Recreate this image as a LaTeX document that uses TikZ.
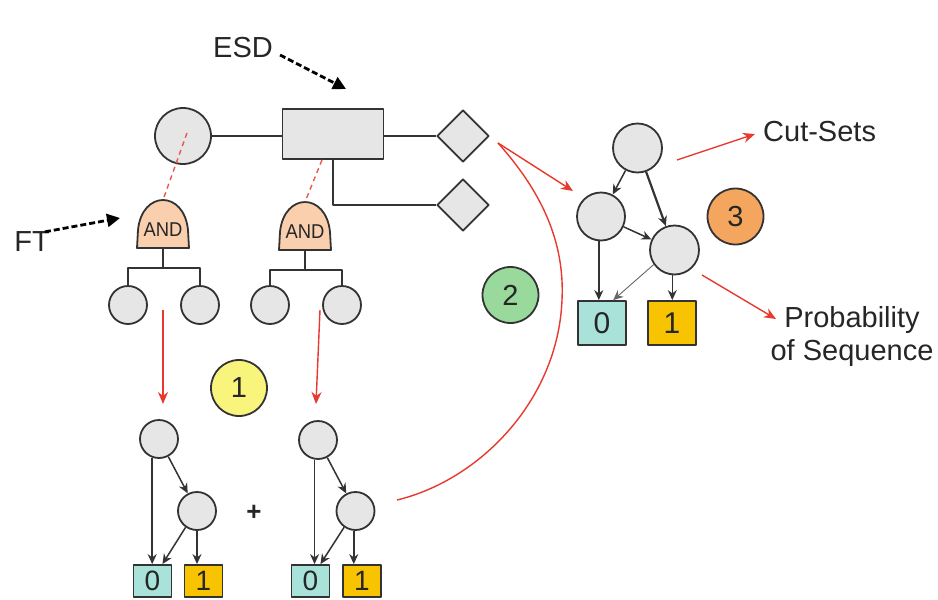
\documentclass[tikz,border=0pt]{standalone}
\usepackage{fontspec}
\setmainfont{Liberation Sans}
\usetikzlibrary{shapes.geometric,arrows.meta,calc}

\definecolor{nodegray}{HTML}{E6E6E6}
\definecolor{edgegray}{HTML}{333333}
\definecolor{textgray}{HTML}{262626}
\definecolor{gatepeach}{HTML}{F9CFAE}
\definecolor{zeroteal}{HTML}{A8E2D9}
\definecolor{onegold}{HTML}{F8C300}
\definecolor{stepyellow}{HTML}{F9F57C}
\definecolor{stepgreen}{HTML}{99D99B}
\definecolor{steporange}{HTML}{F4A55E}
\definecolor{flowred}{HTML}{E8392E}

\tikzset{
  andgate/.pic={
    \draw[fill=gatepeach,draw=edgegray,line width=1.8pt]
      (-26,0) -- (-25,-18) .. controls (-21,-58) and (21,-58) .. (25,-18) -- (26,0) -- cycle;
    \node[font=\fontsize{20}{20}\selectfont,text=textgray,inner sep=0pt,xscale=0.92] (-label) at (0,-18) {AND};
    \coordinate (-top) at (0,-48);
    \coordinate (-base) at (0,0);
  }
}

\begin{document}
\begin{tikzpicture}[x=1pt,y=-1pt,line join=round,
  evt/.style={circle,draw=edgegray,fill=nodegray,line width=1.8pt,inner sep=0pt,minimum size=#1},
  evt/.default=38,
  wire/.style={draw=edgegray,line width=1.8pt},
  bddarc/.style={draw=edgegray,line width=1.5pt,-{Stealth[length=10pt,width=9pt]}},
  flow/.style={draw=flowred,line width=1.4pt},
  flowarrow/.style={flow,-{Stealth[length=12pt,width=10pt]}},
  pointer/.style={draw=black,line width=2.8pt,dash pattern=on 6pt off 3pt,-{Triangle[length=13pt,width=13pt]}},
  tag/.style={font=\fontsize{29}{33}\selectfont,text=textgray,inner sep=0pt},
  badge/.style={circle,draw=edgegray,line width=1.8pt,fill=#1,minimum size=56pt,inner sep=0pt,
    font=\fontsize{29}{29}\selectfont,text=textgray},
  terminal/.style={draw=edgegray,line width=1.8pt,fill=#1,inner sep=0pt,text=textgray},
  smallterm/.style={terminal=#1,minimum width=38pt,minimum height=32pt,font=\fontsize{28}{28}\selectfont},
  bigterm/.style={terminal=#1,minimum width=48pt,minimum height=44pt,font=\fontsize{30}{30}\selectfont},
]
\useasboundingbox (0,0) rectangle (938,600);

% ---------- event sequence diagram ----------
\node[evt=56] (c0) at (183,136) {};
\node[rectangle,draw=edgegray,fill=nodegray,line width=1.8pt,minimum width=101pt,minimum height=50pt,inner sep=0pt] (esd) at (333,134) {};
\node[diamond,aspect=1,draw=edgegray,fill=nodegray,line width=1.8pt,minimum size=52pt,inner sep=0pt] (d1) at (463,136) {};
\node[diamond,aspect=1,draw=edgegray,fill=nodegray,line width=1.8pt,minimum size=52pt,inner sep=0pt] (d2) at (463,205) {};

\draw[wire] (c0.east) -- (c0.east -| esd.west);
\draw[wire] (esd.east |- d1.west) -- (d1.west);
\draw[wire,line width=2.4pt] (esd.south) |- (d2.west);

\node[tag] (esdlabel) at (243,48) {ESD};
\coordinate (esdtip) at (346,89);
\draw[pointer] ($(esdlabel.east)+(7,7)$) -- (esdtip);

\node[tag] (ftlabel) at (32,242) {FT};
\coordinate (fttip) at (120,218);
\draw[pointer] ($(ftlabel.north east)+(-5,0)$) -- (fttip);

% ---------- fault trees ----------
\pic (g1) at (163,248) {andgate};
\pic (g2) at (305,250) {andgate};

\node[evt] (l1) at (128,305) {};
\node[evt] (l2) at (200,305) {};
\node[evt] (l3) at (270,305) {};
\node[evt] (l4) at (342,305) {};

\draw[wire] (g1-base) -- ++(0,20);
\draw[wire] (l1.north) |- ($(g1-base)+(0,20)$) -| (l2.north);
\draw[wire] (g2-base) -- ++(0,20);
\draw[wire] (l3.north) |- ($(g2-base)+(0,20)$) -| (l4.north);

\draw[flow,draw=flowred!85,dash pattern=on 5pt off 4pt] ($(c0.center)+(4,-3)$) -- (g1-top);
\draw[flow,draw=flowred!85,dash pattern=on 5pt off 4pt] ($(esd.south)+(-11,0)$) -- (g2-top);

% ---------- step 1: BDDs of the fault trees ----------
\coordinate (f1s) at (163,310);
\coordinate (f1e) at (163,404);
\coordinate (f2s) at (320,310);
\coordinate (f2e) at (316,404);
\draw[flowarrow] (f1s) -- (f1e);
\draw[flowarrow] (f2s) -- (f2e);

\node[badge=stepyellow] (one) at (239,388) {1};

\node[evt] (t1) at (159,439) {};
\node[evt] (s1) at (197,511) {};
\node[smallterm=zeroteal] (b0) at (152.5,581) {0};
\node[smallterm=onegold] (b1) at (203.5,581) {1};
\draw[bddarc] (t1.-110) -- (t1.-110 |- b0.north);
\draw[bddarc] (t1) -- (s1);
\draw[bddarc] (s1.235) -- ($(b0.north)!0.5!(b0.north east)$);
\draw[bddarc] (s1.south) -- (s1.south |- b1.north);

\node[font=\fontsize{26}{26}\selectfont\bfseries,text=textgray,inner sep=0pt] (plus) at (254,513) {+};

\node[evt] (t2) at (318,440) {};
\node[evt] (s2) at (355.5,511) {};
\node[smallterm=zeroteal] (b2) at (310.5,581) {0};
\node[smallterm=onegold] (b3) at (362,581) {1};
\draw[bddarc] (t2.-100) -- (t2.-100 |- b2.north);
\draw[bddarc] (t2) -- (s2);
\draw[bddarc] (s2.235) -- ($(b2.north)!0.5!(b2.north east)$);
\draw[bddarc] (s2.-95) -- (s2.-95 |- b3.north);

% ---------- step 2: combination along the sequence ----------
\coordinate (joinpt) at (498,143);
\coordinate (curveend) at (397,500);
\coordinate (mergetip) at (573,191);
\draw[flow] (joinpt) .. controls (540,190) and (565,240) .. (562,300)
  .. controls (558,400) and (480,480) .. (curveend);
\draw[flowarrow] (joinpt) -- (mergetip);

\node[badge=stepgreen] (two) at (510.5,295) {2};

% ---------- step 3: sequence BDD ----------
\node[evt=49] (r0) at (637.5,148) {};
\node[evt=48] (r1) at (601,216.5) {};
\node[evt=49] (r2) at (674.5,250) {};
\node[bigterm=zeroteal] (B0) at (602,323) {0};
\node[bigterm=onegold] (B1) at (672,323) {1};

\draw[bddarc] (r0) -- (r1);
\draw[bddarc,line width=2.2pt] (r0) -- (r2);
\draw[bddarc] (r1) -- (r2);
\draw[bddarc] (r1.-95) -- (r1.-95 |- B0.north);
\draw[bddarc,draw=edgegray!75,line width=0.9pt] (r2.215) -- ($(B0.north)!0.45!(B0.north east)$);
\draw[bddarc] (r2.-95) -- (r2.-95 |- B1.north);

\node[badge=steporange] (three) at (735.5,216.5) {3};

\node[tag,anchor=west] (cutsets) at (763,132) {Cut-Sets};
\coordinate (cs0) at (677,160);
\draw[flowarrow] (cs0) -- ($(cutsets.west)+(-8,2)$);

\node[tag,align=center,anchor=north] (prob) at (852,306) {Probability\\of Sequence};
\coordinate (ps0) at (702,275);
\coordinate (ps1) at (776,319);
\draw[flowarrow] (ps0) -- (ps1);

\end{tikzpicture}
\end{document}
